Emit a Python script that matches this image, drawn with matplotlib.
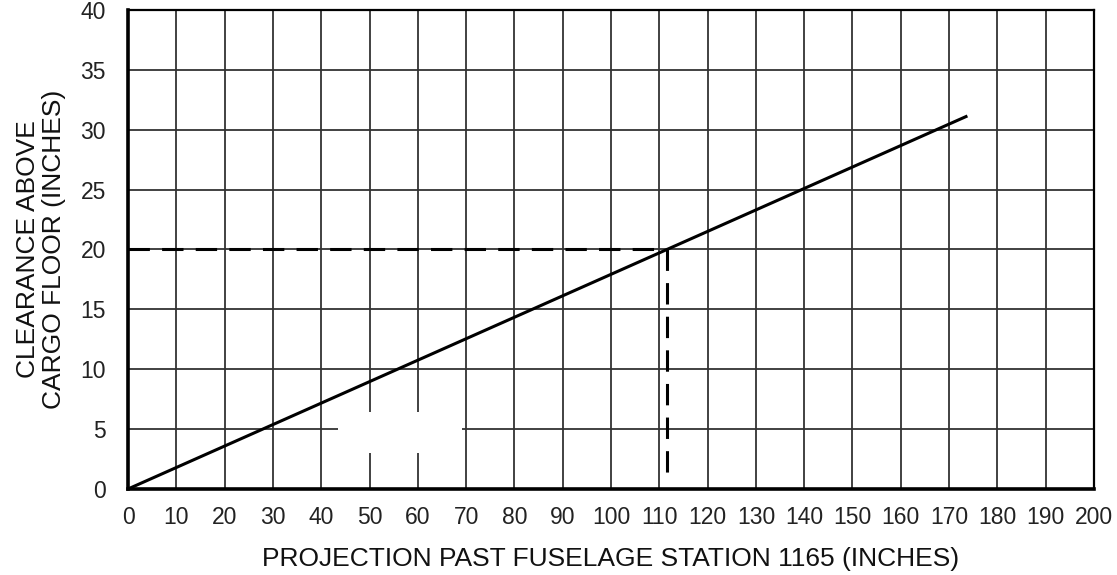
import numpy as np
import matplotlib.pyplot as plt
from matplotlib.patches import Rectangle

plt.rcParams['font.family'] = ['Liberation Sans', 'DejaVu Sans']

# clearance line
line_x = [0, 173.5]
line_y = [0, 31.1]

# worked example: 20 in clearance -> ~111.5 in projection
example_x = 111.5
example_y = 20

x_ticks = list(range(0, 201, 10))
y_ticks = list(range(0, 41, 5))

fig = plt.figure(figsize=(11.17, 5.75), dpi=100)
ax = fig.add_axes([0.1146, 0.1496, 0.8648, 0.833])

ax.set_xlim(0, 200)
ax.set_ylim(0, 40)
ax.set_xticks(x_ticks)
ax.set_yticks(y_ticks)
ax.tick_params(length=0, labelsize=16.5, colors='#222222')
ax.tick_params(axis='x', pad=12)
ax.tick_params(axis='y', pad=16)
ax.grid(True, color='#333333', linewidth=1.3)
ax.set_axisbelow(True)

for side in ['left', 'bottom']:
    ax.spines[side].set_linewidth(2.6)
for side in ['top', 'right']:
    ax.spines[side].set_linewidth(1.6)

ax.plot(line_x, line_y, color='black', linewidth=2.2, zorder=4)

# dashed guide lines
ax.plot([0, example_x], [example_y, example_y], color='black', linewidth=2.2,
        dashes=(7, 4), zorder=3)
ax.plot([example_x, example_x], [example_y, 0.9], color='black', linewidth=2.2,
        dashes=(7, 4), zorder=3)

# white patch blanking part of the grid
ax.add_patch(Rectangle((43.4, 3.0), 25.8, 3.4, facecolor='white',
                       edgecolor='none', zorder=2))

ax.set_xlabel('PROJECTION PAST FUSELAGE STATION 1165 (INCHES)', fontsize=19,
              labelpad=13, color='#111111')
ax.set_ylabel('CLEARANCE ABOVE\nCARGO FLOOR (INCHES)', fontsize=19,
              labelpad=10, color='#111111', linespacing=1.1)

fig.savefig('out.png', dpi=100)
